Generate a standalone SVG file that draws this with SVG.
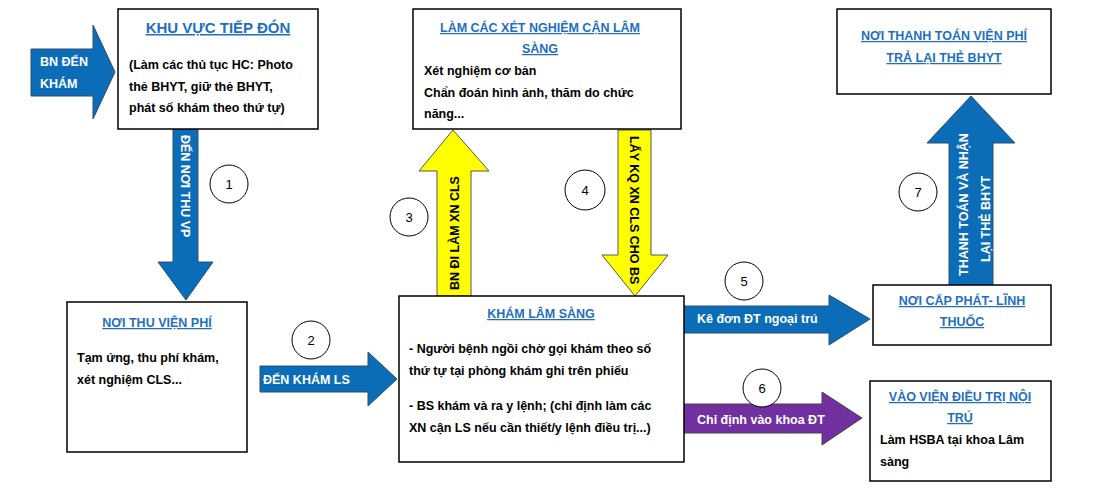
<svg xmlns="http://www.w3.org/2000/svg" width="1098" height="500" viewBox="0 0 1098 500">
<style>
.box{fill:#fff;stroke:#000;stroke-width:1.5}
.t{font-family:"Liberation Sans",Arial,sans-serif;font-size:12.5px;font-weight:bold;fill:#000}
.h{font-family:"Liberation Sans",Arial,sans-serif;font-size:12.5px;font-weight:bold;fill:#1f6fbf;text-decoration:underline}
.w{font-family:"Liberation Sans",Arial,sans-serif;font-size:12.5px;font-weight:bold;fill:#fff}
.blue{fill:#0b6cb8;stroke:#2f4f6f;stroke-width:1}
.yel{fill:#ffff00;stroke:#555;stroke-width:1}
.pur{fill:#7030a0;stroke:#444;stroke-width:1}
.c{fill:#fff;stroke:#000;stroke-width:1}
.n{font-family:"Liberation Sans",Arial,sans-serif;font-size:13px;fill:#000;text-anchor:middle}
</style>
<g id="connectors">
<polygon class="blue" points="31,49 93,49 93,25 115,72 93,119 93,96 31,96"/>
<text class="w" x="40" y="66">BN ĐẾN</text><text class="w" x="40" y="88">KHÁM</text>
<polygon class="blue" points="173,129 198,129 198,262 213,262 186,300 158,262 173,262"/>
<text class="w" transform="translate(181,135) rotate(90)">ĐẾN NƠI THU VP</text>
<polygon class="blue" points="260,366 368,366 368,352 397,379 368,406 368,392 260,392"/>
<text class="w" x="263" y="384">ĐẾN KHÁM LS</text>
<polygon class="yel" points="437,296 437,171 419,171 453,130 489,171 471,171 471,296"/>
<text class="t" transform="translate(459,290) rotate(-90)">BN ĐI LÀM XN CLS</text>
<polygon class="yel" points="618,130 651,130 651,255 668,255 635,296 602,255 618,255"/>
<text class="t" transform="translate(630,136) rotate(90)">LẤY KQ XN CLS CHO BS</text>
<polygon class="blue" points="684,306 829,306 829,295 870,319 829,345 829,333 684,333"/>
<text class="w" x="697" y="323">Kê đơn ĐT ngoại  trú</text>
<polygon class="pur" points="684,404 822,404 822,392 862,418 822,445 822,433 684,433"/>
<text class="w" x="697" y="424">Chỉ định vào khoa ĐT</text>
<polygon class="blue" points="949,285 949,143 927,143 971,96 1015,143 993,143 993,285"/>
<text class="w" transform="translate(968,276) rotate(-90)">THANH TOÁN VÀ NHẬN</text>
<text class="w" transform="translate(990,262) rotate(-90)">LẠI THẺ BHYT</text>
</g>
<g id="n1"><circle class="c" cx="229" cy="184" r="19"/><text class="n" x="229" y="189">1</text></g>
<g id="n2"><circle class="c" cx="311" cy="340" r="19"/><text class="n" x="311" y="345">2</text></g>
<g id="n3"><circle class="c" cx="409" cy="217" r="19"/><text class="n" x="409" y="222">3</text></g>
<g id="n4"><circle class="c" cx="585" cy="190" r="20"/><text class="n" x="585" y="195">4</text></g>
<g id="n5"><circle class="c" cx="744" cy="281" r="19"/><text class="n" x="744" y="286">5</text></g>
<g id="n6"><circle class="c" cx="762" cy="388" r="19"/><text class="n" x="762" y="393">6</text></g>
<g id="n7"><circle class="c" cx="918" cy="192" r="19"/><text class="n" x="918" y="197">7</text></g>
<g id="tiepdon"><rect class="box" x="118" y="9" width="200" height="120"/>
<text class="h" x="218" y="33" text-anchor="middle" style="font-size:15px">KHU VỰC TIẾP ĐÓN</text>
<text class="t" x="129" y="69">(Làm các thủ tục HC: Photo</text>
<text class="t" x="129" y="91">thẻ BHYT, giữ thẻ BHYT,</text>
<text class="t" x="129" y="112">phát số khám theo thứ  tự)</text></g>
<g id="thuvien"><rect class="box" x="67" y="302" width="180" height="150"/>
<text class="h" x="157" y="327" text-anchor="middle">NƠI THU VIỆN PHÍ</text>
<text class="t" x="77" y="362">Tạm ứng, thu phí khám,</text>
<text class="t" x="77" y="384">xét nghiệm CLS...</text></g>
<g id="xetnghiem"><rect class="box" x="413" y="9" width="268" height="120"/>
<text class="h" x="540" y="32" text-anchor="middle">LÀM CÁC XÉT NGHIỆM CẬN LÂM</text>
<text class="h" x="540" y="53" text-anchor="middle">SÀNG</text>
<text class="t" x="424" y="75">Xét nghiệm  cơ bản</text>
<text class="t" x="424" y="97">Chẩn đoán hình ảnh, thăm do chức</text>
<text class="t" x="424" y="118">năng...</text></g>
<g id="khamls"><rect class="box" x="399" y="296" width="285" height="166"/>
<text class="h" x="541" y="318" text-anchor="middle">KHÁM LÂM SÀNG</text>
<text class="t" x="409" y="353">- Người bệnh ngồi chờ gọi  khám  theo số</text>
<text class="t" x="409" y="375">thứ tự tại phòng khám ghi trên phiếu</text>
<text class="t" x="409" y="410">- BS khám và ra y lệnh; (chỉ định làm các</text>
<text class="t" x="409" y="432">XN cận LS nếu cần thiết/y lệnh điều trị...)</text></g>
<g id="thanhtoan"><rect class="box" x="837" y="9" width="214" height="85"/>
<text class="h" x="944" y="40" text-anchor="middle">NƠI THANH TOÁN VIỆN PHÍ</text>
<text class="h" x="944" y="62" text-anchor="middle">TRẢ LẠI THẺ BHYT</text></g>
<g id="capphat"><rect class="box" x="873" y="285" width="178" height="60"/>
<text class="h" x="962" y="305" text-anchor="middle">NƠI CẤP PHÁT- LĨNH</text>
<text class="h" x="962" y="326" text-anchor="middle">THUỐC</text></g>
<g id="vaovien"><rect class="box" x="870" y="381" width="181" height="100"/>
<text class="h" x="960" y="401" text-anchor="middle">VÀO VIỆN ĐIỀU TRỊ NỘI</text>
<text class="h" x="960" y="422" text-anchor="middle">TRÚ</text>
<text class="t" x="880" y="444">Làm HSBA tại khoa Lâm</text>
<text class="t" x="880" y="466">sàng</text></g>
</svg>
